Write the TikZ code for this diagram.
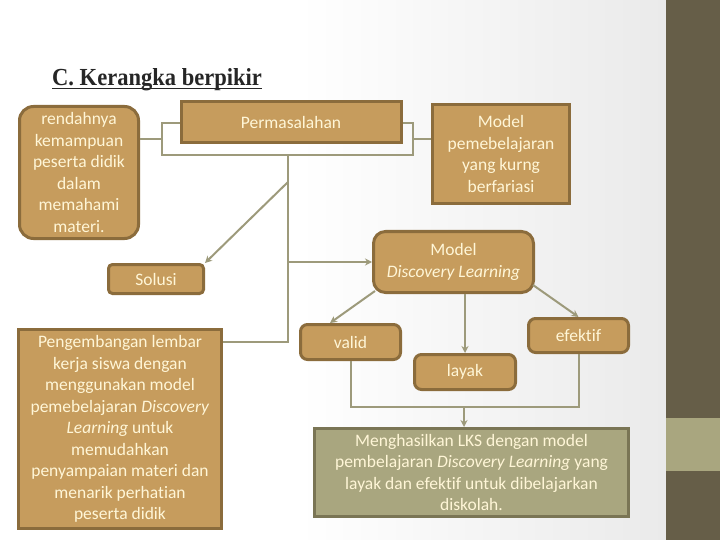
\documentclass[tikz,border=0pt]{standalone}
\usepackage{fontspec}
\setmainfont{Carlito}[Ligatures={NoCommon}]
\newfontfamily\titlefont[FakeStretch=0.92]{Liberation Serif}
\usetikzlibrary{arrows.meta,calc}
\definecolor{boxfill}{RGB}{198,156,93}
\definecolor{boxline}{RGB}{139,108,60}
\definecolor{txt}{RGB}{255,246,215}
\definecolor{conn}{RGB}{157,154,123}
\definecolor{olivefill}{RGB}{169,166,127}
\definecolor{oliveline}{RGB}{122,117,85}
\definecolor{strip}{RGB}{102,94,72}
\definecolor{bgr}{RGB}{234,234,234}
\begin{document}
\begin{tikzpicture}[x=1pt,y=-1pt,
  box/.style={draw=boxline, fill=boxfill, line width=3pt, text=txt, align=center,
    inner sep=0pt, font=\fontsize{17.5}{21.5}\selectfont},
  obox/.style={box, draw=oliveline, fill=olivefill},
  link/.style={draw=conn, line width=2pt},
  arr/.style={link, -{Stealth[length=7pt,width=7pt]}}]
\useasboundingbox (0,0) rectangle (720,540);
\fill[white] (0,0) rectangle (300,540);
\shade[left color=white,right color=bgr] (299,0) rectangle (666,540);
\fill[strip] (666,0) rectangle (720,540);
\fill[olivefill] (666,418) rectangle (720,471);

% title
\node[anchor=base west, inner sep=0pt, text=black!85,
  font=\titlefont\bfseries\fontsize{24.5}{28}\selectfont] (title) at (52,86) {C. Kerangka berpikir};
\draw[line width=1.3pt, black!85] ($(title.base west)+(0,2.5)$) -- ($(title.base east)+(0,2.5)$);

% boxes
\node[box, rounded corners=14pt, minimum width=119pt, minimum height=132pt] (rend) at (79,172.5)
  {rendahnya\\kemampuan\\peserta didik\\dalam\\memahami\\materi.};
\node[box, minimum width=220pt, minimum height=41pt] (perm) at (291,122.5) {Permasalahan};
\node[box, minimum width=137pt, minimum height=99pt] (mpk) at (501,154)
  {Model\\pemebelajaran\\yang kurng\\berfariasi};
\node[box, rounded corners=12pt, minimum width=160pt, minimum height=61pt] (dl) at (453.5,262)
  {Model\\\textit{Discovery Learning}};
\node[box, rounded corners=4pt, minimum width=95pt, minimum height=29pt] (sol) at (156,279) {Solusi};
\node[box, minimum width=203pt, minimum height=199pt] (peng) at (120,429)
  {Pengembangan lembar\\kerja siswa dengan\\menggunakan model\\pemebelajaran \textit{Discovery}\\\textit{Learning} untuk\\memudahkan\\penyampaian materi dan\\menarik perhatian\\peserta didik};
\node[box, rounded corners=7pt, minimum width=100pt, minimum height=35pt] (valid) at (350.5,342) {valid};
\node[box, rounded corners=7pt, minimum width=101pt, minimum height=35pt] (layak) at (465,372) {layak};
\node[box, rounded corners=7pt, minimum width=100pt, minimum height=34pt] (efek) at (578.5,335.5) {efektif};
\node[obox, minimum width=314pt, minimum height=88pt] (hasil) at (471.5,472.5)
  {Menghasilkan LKS dengan model\\pembelajaran \textit{Discovery Learning} yang\\layak dan efektif untuk dibelajarkan\\diskolah.};

% connector points
\coordinate (bTL) at (162,123);
\coordinate (bML) at (162,139);
\coordinate (bBL) at (162,155);
\coordinate (bTR) at (413,123);
\coordinate (bMR) at (413,139);
\coordinate (bBR) at (413,155);
\coordinate (vTop) at (288,155);
\coordinate (vDiag) at (288,182);
\coordinate (vMid) at (288,262);
\coordinate (vBot) at (288,342);
\coordinate (jL) at (351,407);
\coordinate (jR) at (579,407);
\coordinate (jM) at (464,407);

% connectors
\draw[link] (rend.east |- bML) -- (bML);
\draw[link] (perm.west |- bTL) -- (bTL) -- (bBL) -- (bBR) -- (bTR) -- (perm.east |- bTR);
\draw[link] (bMR) -- (mpk.west |- bMR);
\draw[link] (vTop) -- (vBot) -- (peng.east |- vBot);
\draw[arr] (vDiag) -- (sol.north east);
\draw[arr] (vMid) -- (dl.west |- vMid);
\draw[arr] ($(dl.south west)+(3,-3)$) -- (valid.north -| 330,0);
\draw[arr] (dl.south -| layak.north) -- (layak.north);
\draw[arr] ($(dl.south east)+(-2,-9)$) -- (efek.north);
\draw[link] (valid.south -| jL) -- (jL) -- (jR) -- (efek.south -| jR);
\draw[arr] (jM) -- (hasil.north -| jM);
\end{tikzpicture}
\end{document}
